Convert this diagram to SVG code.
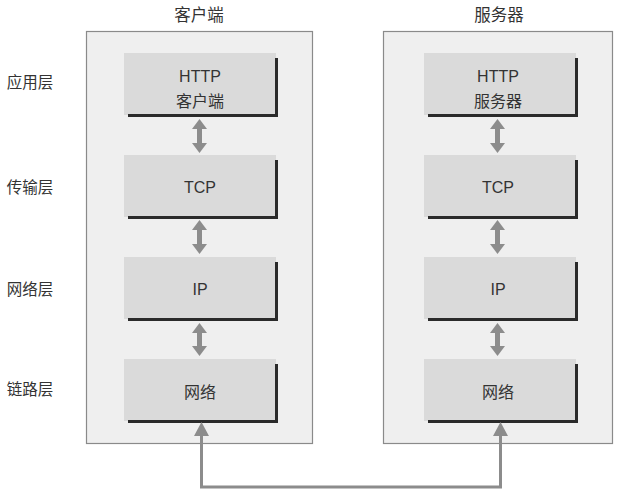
<svg xmlns="http://www.w3.org/2000/svg" width="623" height="494" viewBox="0 0 623 494">
<style>
.bg{fill:#ffffff}
.container{fill:#efefef;stroke:#8a8a8a;stroke-width:1.2}
.box{fill:#dadada}
.shadow{fill:none;stroke:#2a2a2a;stroke-width:3}
.t{font-family:"Liberation Sans","Noto Sans CJK SC",sans-serif;font-size:16px;fill:#333333;text-anchor:middle}
.lbl{font-family:"Noto Sans CJK SC",sans-serif;font-size:15.5px;fill:#333333;text-anchor:middle}
.top{font-family:"Noto Sans CJK SC",sans-serif;font-size:16.5px;fill:#333333;text-anchor:middle}
.dbl{fill:none;stroke:#8c8c8c;stroke-width:5;marker-start:url(#hd);marker-end:url(#hd)}
.link{fill:none;stroke:#8c8c8c;stroke-width:3;marker-start:url(#hl);marker-end:url(#hl)}
</style>
<defs>
<marker id="hd" viewBox="0 0 10 15" refX="0" refY="7.5" markerWidth="10" markerHeight="15" markerUnits="userSpaceOnUse" orient="auto-start-reverse">
<path d="M0,0 L10,7.5 L0,15 z" fill="#8c8c8c"/>
</marker>
<marker id="hl" viewBox="0 0 14 15" refX="0" refY="7.5" markerWidth="14" markerHeight="15" markerUnits="userSpaceOnUse" orient="auto-start-reverse">
<path d="M0,0 L14,7.5 L0,15 z" fill="#8c8c8c"/>
</marker>
</defs>
<rect class="bg" x="0" y="0" width="623" height="494"/>

<g id="layer-labels">
<text class="lbl" x="30" y="88">应用层</text>
<text class="lbl" x="30" y="193">传输层</text>
<text class="lbl" x="30" y="295">网络层</text>
<text class="lbl" x="30" y="395">链路层</text>
</g>

<g id="client">
<text class="top" x="199" y="21">客户端</text>
<rect class="container" x="86.5" y="31.5" width="226" height="412"/>
</g>
<g id="server">
<text class="top" x="499" y="21">服务器</text>
<rect class="container" x="383.5" y="31.5" width="229" height="412"/>
</g>

<g id="client-http">
<rect class="box" x="124" y="53" width="152" height="62"/>
<path class="shadow" d="M276.5,58 V115.5 H128"/>
<text class="t" x="200" y="82">HTTP</text>
<text class="t" x="200" y="107">客户端</text>
</g>
<g id="client-tcp">
<rect class="box" x="124" y="155" width="152" height="62"/>
<path class="shadow" d="M276.5,160 V217.5 H128"/>
<text class="t" x="200" y="193">TCP</text>
</g>
<g id="client-ip">
<rect class="box" x="124" y="257" width="152" height="62"/>
<path class="shadow" d="M276.5,262 V319.5 H128"/>
<text class="t" x="200" y="295">IP</text>
</g>
<g id="client-net">
<rect class="box" x="124" y="359" width="152" height="62"/>
<path class="shadow" d="M276.5,364 V421.5 H128"/>
<text class="t" x="200" y="398">网络</text>
</g>

<g id="server-http">
<rect class="box" x="424" y="53" width="152" height="62"/>
<path class="shadow" d="M576.5,58 V115.5 H428"/>
<text class="t" x="498" y="82">HTTP</text>
<text class="t" x="498" y="107">服务器</text>
</g>
<g id="server-tcp">
<rect class="box" x="424" y="155" width="152" height="62"/>
<path class="shadow" d="M576.5,160 V217.5 H428"/>
<text class="t" x="498" y="193">TCP</text>
</g>
<g id="server-ip">
<rect class="box" x="424" y="257" width="152" height="62"/>
<path class="shadow" d="M576.5,262 V319.5 H428"/>
<text class="t" x="498" y="295">IP</text>
</g>
<g id="server-net">
<rect class="box" x="424" y="359" width="152" height="62"/>
<path class="shadow" d="M576.5,364 V421.5 H428"/>
<text class="t" x="498" y="398">网络</text>
</g>

<g id="connectors">
<path class="dbl" d="M199.5,129 V143"/>
<path class="dbl" d="M199.5,230 V244"/>
<path class="dbl" d="M199.5,333 V346"/>
<path class="dbl" d="M497.5,129 V143"/>
<path class="dbl" d="M497.5,230 V244"/>
<path class="dbl" d="M497.5,333 V346"/>
<path class="link" d="M201.5,436 V487 H500.5 V436"/>
</g>
</svg>
